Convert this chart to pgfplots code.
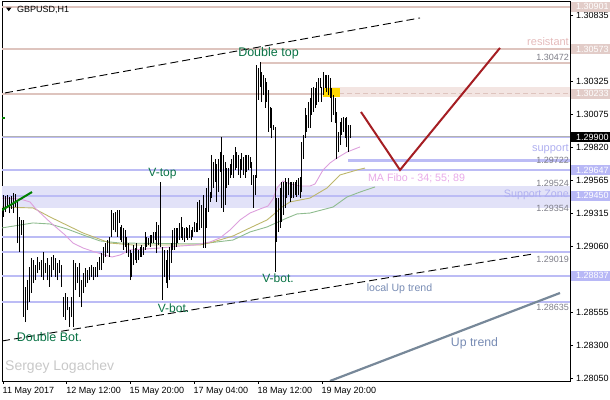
\documentclass[border=0pt]{standalone}
\usepackage{fontspec}
\setmainfont{Liberation Sans}
\usepackage{pgfplots}
\pgfplotsset{compat=1.18}
\usepackage{pgfplotstable}

\definecolor{resline}{RGB}{222,196,190}
\definecolor{resbox}{RGB}{226,204,200}
\definecolor{resband}{RGB}{243,229,226}
\definecolor{supline}{RGB}{188,188,245}
\definecolor{supbox}{RGB}{184,184,246}
\definecolor{supband}{RGB}{226,226,248}
\definecolor{maP}{RGB}{221,160,221}
\definecolor{maO}{RGB}{189,183,107}
\definecolor{maG}{RGB}{143,188,143}
\definecolor{lbl}{RGB}{10,115,70}
\definecolor{zig}{RGB}{165,30,35}
\definecolor{uptr}{RGB}{119,136,153}
\definecolor{gtxt}{RGB}{125,125,135}
\definecolor{restxt}{RGB}{228,186,186}
\definecolor{suptxt}{RGB}{176,176,240}
\definecolor{fibotxt}{RGB}{232,170,232}
\definecolor{trtxt}{RGB}{120,140,180}
\definecolor{sign}{RGB}{200,200,200}
\definecolor{gold}{RGB}{255,215,0}
\definecolor{mtgreen}{RGB}{0,128,0}

\newcommand{\tk}{\fontsize{9bp}{10bp}\selectfont}
\newcommand{\pbox}[3]{%
  \fill[#2] ([yshift=-5bp]axis cs:570.5,#1) rectangle ([xshift=40bp,yshift=5bp]axis cs:570.5,#1);
  \node[anchor=west, inner sep=0pt, text=#3, font=\tk] at ([xshift=6bp]axis cs:570,#1) {#1};}

\pgfplotstableread{
x hi lo
3 1.29456 1.29288
5 1.29449 1.29326
7 1.29456 1.29357
9 1.29441 1.29318
11 1.29449 1.29349
13 1.29472 1.29318
15 1.29464 1.29364
17 1.29403 1.29088
19 1.29288 1.29019
21 1.29265 1.29150
23 1.29265 1.28521
25 1.28751 1.28482
27 1.28804 1.28574
29 1.28904 1.28636
31 1.28973 1.28705
33 1.28958 1.28781
35 1.28919 1.28804
37 1.28981 1.28858
39 1.28942 1.28881
41 1.28958 1.28827
43 1.29019 1.28804
45 1.28935 1.28858
47 1.28973 1.28804
49 1.28919 1.28751
51 1.28981 1.28827
53 1.28996 1.28881
55 1.28973 1.28827
57 1.28935 1.28804
59 1.28958 1.28858
61 1.28919 1.28751
63 1.28674 1.28521
65 1.28705 1.28498
67 1.28674 1.28574
69 1.28597 1.28444
71 1.28674 1.28521
73 1.28958 1.28444
75 1.28935 1.28728
77 1.28904 1.28781
79 1.28935 1.28674
81 1.28804 1.28597
83 1.28858 1.28705
85 1.28896 1.28751
87 1.28881 1.28781
89 1.28904 1.28804
91 1.28919 1.28827
93 1.28904 1.28804
95 1.28904 1.28827
97 1.28942 1.28827
99 1.28981 1.28881
101 1.29011 1.28881
103 1.29057 1.28935
105 1.29088 1.28981
107 1.29111 1.29011
109 1.29134 1.28981
111 1.29341 1.29134
113 1.29318 1.29188
115 1.29326 1.29171
117 1.29341 1.29134
119 1.29341 1.29242
120.0 1.29211 1.29111
121.7 1.29226 1.29096
123.3 1.29204 1.29035
125.0 1.29188 1.29057
126.7 1.29134 1.29011
128.3 1.29088 1.28981
130.0 1.29035 1.28804
131.7 1.29011 1.28827
133.3 1.29073 1.28919
135.0 1.29050 1.28958
136.7 1.29088 1.28935
138.3 1.29035 1.28958
140.0 1.29057 1.28981
141.7 1.29073 1.28981
143.3 1.29057 1.28996
145.0 1.29171 1.29035
146.7 1.29134 1.29057
148.3 1.29127 1.29073
150.0 1.29150 1.29057
151.7 1.29150 1.29088
153.3 1.29171 1.29088
155.0 1.29171 1.29111
156.7 1.29249 1.29011
158.3 1.29226 1.29073
160.0 1.29556 1.29057
162.3 1.29057 1.28651
164.0 1.29035 1.28827
166.0 1.28958 1.28781
167.7 1.29035 1.28743
169.3 1.29057 1.28804
171.0 1.29088 1.28935
172.7 1.29188 1.29035
174.3 1.29204 1.29035
176.0 1.29204 1.29057
177.7 1.29204 1.29088
179.3 1.29242 1.29111
181.0 1.29288 1.29127
182.7 1.29211 1.29111
184.3 1.29204 1.29096
186.0 1.29211 1.29127
187.7 1.29204 1.29111
189.3 1.29226 1.29127
191.0 1.29188 1.29111
192.7 1.29211 1.29134
194.3 1.29249 1.29171
196.0 1.29242 1.29171
197.7 1.29403 1.29171
199.3 1.29418 1.29188
201.7 1.29380 1.29204
203.3 1.29456 1.29050
205.0 1.29357 1.29050
206.7 1.29510 1.29204
208.3 1.29587 1.29326
210.0 1.29479 1.29403
211.7 1.29763 1.29433
213.3 1.29710 1.29510
215.0 1.29733 1.29556
216.7 1.29696 1.29403
218.3 1.29733 1.29479
220.0 1.29786 1.29633
221.7 1.29901 1.29357
223.3 1.29763 1.29326
225.0 1.29710 1.29380
226.7 1.29663 1.29510
228.3 1.29663 1.29533
230.0 1.29696 1.29587
231.7 1.29733 1.29610
233.3 1.29763 1.29587
235.0 1.29825 1.29648
236.7 1.29786 1.29663
238.3 1.29763 1.29610
240.0 1.29733 1.29587
241.7 1.29779 1.29648
243.3 1.29748 1.29610
245.0 1.29763 1.29587
246.7 1.29763 1.29633
248.3 1.29763 1.29648
250.0 1.29748 1.29663
251.7 1.29710 1.29533
253.3 1.29610 1.29357
255.0 1.29610 1.29456
256.7 1.30453 1.29587
258.3 1.30430 1.30185
260.0 1.30476 1.30285
261.7 1.30400 1.30170
263.3 1.30377 1.30223
265.0 1.30354 1.30124
266.7 1.30323 1.30170
268.3 1.30262 1.29940
270.0 1.30131 1.29970
271.7 1.30124 1.29893
273.3 1.29993 1.29955
275.0 1.29978 1.28866
276.7 1.29433 1.29096
278.3 1.29433 1.29172
280.0 1.29510 1.29204
281.7 1.29556 1.29249
283.3 1.29556 1.29303
285.0 1.29587 1.29357
286.7 1.29556 1.29433
288.3 1.29587 1.29456
290.0 1.29556 1.29403
291.7 1.29556 1.29433
293.3 1.29556 1.29433
295.0 1.29556 1.29456
296.7 1.29571 1.29441
298.3 1.29587 1.29456
300.0 1.29594 1.29433
301.7 1.29863 1.29479
303.3 1.29917 1.29733
305.0 1.30124 1.29893
306.7 1.30070 1.29940
308.3 1.30170 1.29970
310.0 1.30200 1.29970
311.7 1.30277 1.30070
313.3 1.30285 1.30093
315.0 1.30277 1.30124
316.7 1.30323 1.30147
318.3 1.30354 1.30170
320.0 1.30354 1.30277
321.7 1.30285 1.30170
323.3 1.30400 1.30223
325.0 1.30377 1.30277
326.7 1.30377 1.30246
328.3 1.30377 1.30223
330.0 1.30354 1.30200
331.7 1.30277 1.30016
333.3 1.30223 1.30070
335.0 1.30200 1.30008
336.7 1.30093 1.29733
338.3 1.29940 1.29786
340.0 1.30016 1.29840
341.7 1.30047 1.29917
343.3 1.30054 1.29940
345.0 1.30047 1.29893
346.7 1.30054 1.29825
348.3 1.29993 1.29786
350.0 1.29993 1.29893
}\bars

\begin{document}
\begin{tikzpicture}
\useasboundingbox (0,0) rectangle (610bp,400bp);
\begin{axis}[
  at={(2bp,19bp)}, anchor=south west,
  scale only axis, width=568bp, height=380bp,
  xmin=2, xmax=570, ymin=1.28030, ymax=1.30944,
  axis line style={black, line width=0.8bp},
  tick align=outside, xtick pos=left, ytick pos=right,
  major tick length=3bp,
  tick style={black, line width=0.8bp},
  xtick={3,66.7,130,194,258,322},
  xticklabels={11 May 2017,12 May 12:00,15 May 20:00,17 May 04:00,18 May 12:00,19 May 20:00},
  xticklabel style={anchor=north west, font=\tk, inner sep=0pt, xshift=-0.5bp, yshift=-3bp},
  ytick={1.28050,1.28300,1.28555,1.29060,1.29315,1.29565,1.29820,1.30075,1.30325,1.30835},
  yticklabels={1.28050,1.28300,1.28555,1.29060,1.29315,1.29565,1.29820,1.30075,1.30325,1.30835},
  yticklabel style={anchor=west, font=\tk, inner sep=0pt, xshift=3bp},
  scaled y ticks=false,
  clip mode=individual,
  after end axis/.code={
    \pbox{1.30901}{resbox}{white}
    \pbox{1.30573}{resbox}{white}
    \pbox{1.30233}{resbox}{white}
    \pbox{1.29900}{black}{white}
    \pbox{1.29647}{supbox}{white}
    \pbox{1.29450}{supbox}{white}
    \pbox{1.28837}{supbox}{white}
  },
]
% support zone band
\addplot[fill=supband, draw=none, forget plot] coordinates {(2,1.29354) (570,1.29354) (570,1.29524) (2,1.29524)} --cycle;
% resistance band (right part)
\addplot[fill=resband, draw=none, forget plot] coordinates {(323,1.30208) (570,1.30208) (570,1.30285) (323,1.30285)} --cycle;
% resistance lines
\addplot[resline, line width=2bp, forget plot] coordinates {(2,1.30901) (570,1.30901)};
\addplot[resline, line width=2bp, forget plot] coordinates {(2,1.30573) (570,1.30573)};
\addplot[resline, line width=2bp, forget plot] coordinates {(260,1.30472) (570,1.30472)};
\addplot[resline, line width=2bp, forget plot] coordinates {(2,1.30233) (323,1.30233)};
\addplot[resline, line width=1bp, dash pattern=on 5bp off 3bp, forget plot] coordinates {(323,1.30233) (570,1.30233)};
% support lines
\addplot[supline, line width=2.5bp, forget plot] coordinates {(2,1.29900) (570,1.29900)};
\addplot[black!30, line width=0.7bp, forget plot] coordinates {(2,1.29909) (570,1.29909)};
\addplot[supline, line width=2.5bp, forget plot] coordinates {(348,1.29722) (570,1.29722)};
\addplot[supline, line width=2.5bp, forget plot] coordinates {(2,1.29647) (570,1.29647)};
\addplot[supline, line width=2.5bp, forget plot] coordinates {(2,1.29450) (570,1.29450)};
\addplot[supline, line width=2.5bp, forget plot] coordinates {(2,1.29136) (570,1.29136)};
\addplot[supline, line width=2.5bp, forget plot] coordinates {(2,1.29019) (570,1.29019)};
\addplot[supline, line width=2.5bp, forget plot] coordinates {(2,1.28837) (570,1.28837)};
\addplot[supline, line width=2.5bp, forget plot] coordinates {(2,1.28635) (570,1.28635)};
% yellow marker
\addplot[fill=gold, draw=none, forget plot] coordinates {(323,1.30208) (340,1.30208) (340,1.30277) (323,1.30277)} --cycle;
% moving averages
\addplot[maG, line width=0.9bp, forget plot] coordinates {(2,1.29204) (33,1.29242) (50,1.29234) (67,1.29196) (83,1.29150) (100,1.29104) (120,1.29088) (200,1.29081) (233,1.29111) (250,1.29173) (267,1.29211) (287,1.29280) (297,1.29311) (310,1.29318) (333,1.29364) (347,1.29441) (360,1.29479) (375,1.29518)};
\addplot[maO, line width=0.9bp, forget plot] coordinates {(2,1.29364) (33,1.29357) (50,1.29288) (83,1.29165) (110,1.29088) (133,1.29073) (200,1.29073) (213,1.29096) (233,1.29142) (250,1.29204) (267,1.29265) (273,1.29303) (282,1.29364) (290,1.29403) (310,1.29433) (327,1.29510) (340,1.29610) (357,1.29648) (365,1.29663)};
\addplot[maP, line width=0.9bp, forget plot] coordinates {(2,1.29433) (20,1.29426) (30,1.29403) (35,1.29357) (50,1.29249) (65,1.29150) (73,1.29088) (83,1.29050) (95,1.29019) (105,1.28996) (112,1.28981) (120,1.28996) (130,1.29035) (145,1.29042) (160,1.29050) (180,1.29065) (195,1.29073) (210,1.29096) (220,1.29127) (230,1.29188) (240,1.29265) (250,1.29318) (260,1.29349) (268,1.29372) (273,1.29426) (277,1.29510) (283,1.29564) (290,1.29541) (300,1.29525) (310,1.29525) (315,1.29541) (323,1.29648) (330,1.29702) (337,1.29740) (347,1.29786) (360,1.29825)};
% price bars (high-low)
\addplot[draw=none, mark=none, forget plot,
  error bars/.cd, y dir=plus, y explicit, error mark=none,
  error bar style={draw=black, line width=1bp, solid, line cap=butt}]
  table[x=x, y=lo, y error expr=\thisrow{hi}-\thisrow{lo}] {\bars};
% trend lines
\addplot[black, line width=0.9bp, dash pattern=on 8bp off 4bp, forget plot] coordinates {(5,1.30239) (420,1.30814)};
\addplot[black, line width=0.9bp, dash pattern=on 8bp off 4bp, forget plot] coordinates {(2,1.28337) (533,1.29004)};
\addplot[uptr, line width=2.2bp, forget plot] coordinates {(330,1.28030) (560,1.28705)};
\addplot[zig, line width=2bp, forget plot] coordinates {(361,1.30093) (400,1.29648) (500,1.30584)};
\addplot[mtgreen, line width=2bp, forget plot] coordinates {(2,1.29341) (32,1.29479)};
\addplot[mtgreen, line width=2bp, forget plot] coordinates {(2,1.30047) (5,1.30047)};
% title
\fill[black] (axis cs:6,1.30894) -- (axis cs:11.5,1.30894) -- (axis cs:8.75,1.30866) -- cycle;
\node[anchor=west, inner sep=0pt, font=\tk] at (axis cs:17,1.30879) {GBPUSD,H1};
% pattern labels
\node[text=lbl, inner sep=0pt, font=\fontsize{12.5bp}{14bp}\selectfont] at (axis cs:268.5,1.30546) {Double top};
\node[text=lbl, inner sep=0pt, font=\fontsize{12bp}{14bp}\selectfont] at (axis cs:162.5,1.29617) {V-top};
\node[text=lbl, inner sep=0pt, font=\fontsize{12bp}{14bp}\selectfont] at (axis cs:173.5,1.28590) {V-bot.};
\node[text=lbl, inner sep=0pt, font=\fontsize{12bp}{14bp}\selectfont] at (axis cs:278,1.28820) {V-bot.};
\node[text=lbl, inner sep=0pt, font=\fontsize{12.5bp}{14bp}\selectfont] at (axis cs:49.5,1.28367) {Double Bot.};
\node[text=sign, anchor=west, inner sep=0pt, font=\fontsize{14bp}{16bp}\selectfont] at (axis cs:5,1.28137) {Sergey Logachev};
% level labels
\node[text=restxt, anchor=east, inner sep=0pt, font=\fontsize{11bp}{12bp}\selectfont] at (axis cs:569,1.30630) {resistant};
\node[text=gtxt, anchor=east, inner sep=0pt, font=\tk] at (axis cs:569,1.30515) {1.30472};
\node[text=suptxt, anchor=east, inner sep=0pt, font=\fontsize{11bp}{12bp}\selectfont] at (axis cs:569,1.29809) {support};
\node[text=gtxt, anchor=east, inner sep=0pt, font=\tk] at (axis cs:569,1.29721) {1.29722};
\node[text=gtxt, anchor=east, inner sep=0pt, font=\tk] at (axis cs:569,1.29548) {1.29524};
\node[text=suptxt, anchor=east, inner sep=0pt, font=\fontsize{10.7bp}{12bp}\selectfont] at (axis cs:569,1.29460) {Support Zone};
\node[text=gtxt, anchor=east, inner sep=0pt, font=\tk] at (axis cs:569,1.29353) {1.29354};
\node[text=gtxt, anchor=east, inner sep=0pt, font=\tk] at (axis cs:569,1.28966) {1.29019};
\node[text=gtxt, anchor=east, inner sep=0pt, font=\tk] at (axis cs:569,1.28597) {1.28635};
\node[text=trtxt, inner sep=0pt, font=\fontsize{10.6bp}{12bp}\selectfont] at (axis cs:399.5,1.28735) {local Up trend};
\node[text=trtxt, inner sep=0pt, font=\fontsize{12.3bp}{14bp}\selectfont] at (axis cs:474.5,1.28321) {Up trend};
\node[text=fibotxt, inner sep=0pt, font=\fontsize{10.7bp}{12bp}\selectfont] at (axis cs:416.5,1.29587) {MA Fibo - 34; 55; 89};
\end{axis}
\end{tikzpicture}
\end{document}
